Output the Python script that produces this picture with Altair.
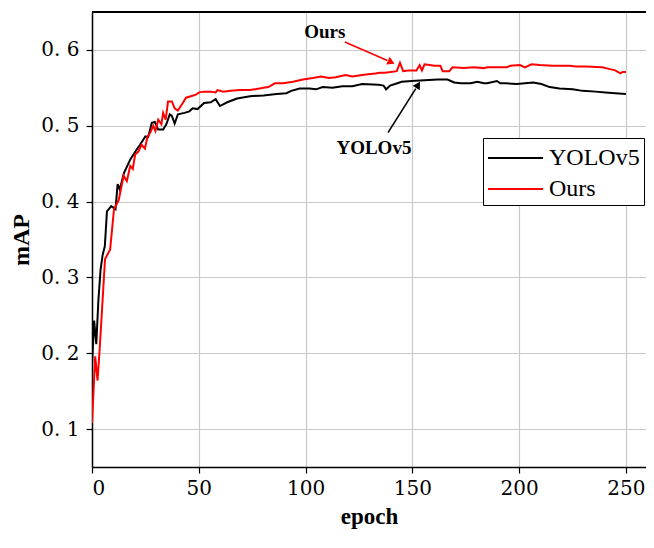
import altair as alt
import pandas as pd

# ---- data ----
yolo_epoch = [0, 1, 2, 3, 4, 5, 6, 7, 9, 11, 12, 13, 15, 18, 21, 22.5, 25, 26.3, 28, 29.4, 31,
              33.3, 34.8, 36.4, 37.4, 38.7, 40.2, 43.3, 45.6, 47.1, 49.4, 52.5, 55.6, 57.9, 59.9,
              63.3, 67.9, 74, 80.3, 86.4, 91, 93.3, 97.2, 101.8, 104.9, 108, 112.6, 117.2, 121.9,
              126.5, 134.2, 136.5, 137.7, 139.6, 141.9, 145, 149.6, 155.7, 161.9, 166.5, 169.6,
              172.7, 177.3, 180.4, 183.5, 185, 189.6, 191.2, 193.5, 198.8, 206.6, 210.4, 214.3,
              218.9, 225.1, 229.7, 235.8, 240.4, 245, 250]
yolo_map = [0.184, 0.243, 0.212, 0.27, 0.31, 0.33, 0.341, 0.387, 0.394, 0.39, 0.423, 0.416, 0.438,
            0.456, 0.469, 0.475, 0.486, 0.485, 0.504, 0.505, 0.495, 0.495, 0.502, 0.515, 0.513,
            0.503, 0.515, 0.517, 0.519, 0.523, 0.522, 0.53, 0.531, 0.535, 0.526, 0.531, 0.536,
            0.539, 0.54, 0.542, 0.543, 0.546, 0.549, 0.549, 0.548, 0.551, 0.55, 0.552, 0.552,
            0.555, 0.554, 0.553, 0.548, 0.553, 0.555, 0.558, 0.559, 0.56, 0.561, 0.561, 0.557,
            0.556, 0.556, 0.558, 0.556, 0.556, 0.559, 0.556, 0.556, 0.555, 0.557, 0.555, 0.551,
            0.549, 0.548, 0.546, 0.545, 0.544, 0.543, 0.542]

ours_epoch = [0, 1.5, 2.6, 3.6, 6.1, 8.5, 10.3, 12.5, 14.8, 16.3, 17.9, 19.1, 20.2, 21.7, 23.2,
              24.8, 26, 27.1, 28.7, 29.7, 31, 32.5, 33.3, 34.5, 35.6, 37.4, 38.7, 40.2, 42.5, 44,
              46.3, 48.7, 50.2, 52.5, 55.6, 57.9, 58.7, 61.5, 64.8, 69.5, 74, 80.3, 82.6, 85.6,
              89.5, 94.1, 98.8, 103.4, 107.2, 111, 114.1, 117.2, 118.8, 120.3, 121.9, 126.5,
              132.6, 134.9, 137.2, 142.7, 144.2, 145.7, 148, 151.9, 153.4, 154.5, 155.7, 158,
              160.4, 163.1, 164.2, 167.3, 168.8, 174.2, 178.8, 183.5, 185, 194.2, 195.8, 200.4,
              202.7, 205.8, 209.6, 215.8, 223.5, 226.6, 231.2, 238.9, 242, 245, 247.4, 248.5, 250]
ours_map = [0.108, 0.196, 0.164, 0.206, 0.324, 0.337, 0.39, 0.402, 0.434, 0.427, 0.447, 0.443,
            0.462, 0.466, 0.475, 0.47, 0.486, 0.49, 0.5, 0.493, 0.508, 0.502, 0.517, 0.508, 0.532,
            0.532, 0.523, 0.52, 0.53, 0.537, 0.539, 0.541, 0.544, 0.545, 0.545, 0.544, 0.547,
            0.545, 0.546, 0.547, 0.547, 0.55, 0.551, 0.556, 0.556, 0.558, 0.561, 0.563, 0.565,
            0.563, 0.564, 0.566, 0.567, 0.566, 0.565, 0.567, 0.569, 0.57, 0.57, 0.572, 0.583,
            0.572, 0.573, 0.573, 0.58, 0.573, 0.581, 0.58, 0.579, 0.579, 0.572, 0.572, 0.577,
            0.576, 0.577, 0.576, 0.577, 0.577, 0.579, 0.58, 0.577, 0.581, 0.58, 0.579, 0.579,
            0.578, 0.578, 0.577, 0.575, 0.573, 0.569, 0.571, 0.571]

series_names = ["YOLOv5", "Ours"]
series_colors = ["#000000", "#ff0000"]
x_ticks = [0, 50, 100, 150, 200, 250]
y_ticks = [0.1, 0.2, 0.3, 0.4, 0.5, 0.6]

# annotations (data coordinates)
ann_text = ["Ours", "YOLOv5"]
ann_x = [109, 132]
ann_y = [0.623, 0.471]
arrow_x = [118.4, 138.6]
arrow_y = [0.6105, 0.491]
arrow_x2 = [138.3, 151.6]
arrow_y2 = [0.586, 0.549]
head_x = [139.6, 152.4]
head_y = [0.5845, 0.5525]
head_angle = [115, 32]
ann_color = ["#ff0000", "#000000"]

df = pd.concat([
    pd.DataFrame({"epoch": yolo_epoch, "mAP": yolo_map, "model": "YOLOv5"}),
    pd.DataFrame({"epoch": ours_epoch, "mAP": ours_map, "model": "Ours"}),
])
ann = pd.DataFrame({"text": ann_text, "x": ann_x, "y": ann_y,
                    "ax": arrow_x, "ay": arrow_y, "ax2": arrow_x2, "ay2": arrow_y2,
                    "hx": head_x, "hy": head_y, "angle": head_angle, "color": ann_color})

xs = alt.Scale(domain=[0, 259.4], nice=False, zero=False)
ys = alt.Scale(domain=[0.05, 0.65], nice=False, zero=False)

lines = alt.Chart(df).mark_line(strokeWidth=2, clip=True).encode(
    x=alt.X("epoch:Q", scale=xs, title="epoch",
            axis=alt.Axis(values=x_ticks, format="d", titlePadding=7, titleFontSize=23)),
    y=alt.Y("mAP:Q", scale=ys, title="mAP",
            axis=alt.Axis(values=y_ticks, labelPadding=7, titlePadding=7,
                          labelExpr="replace(format(datum.value, '.1f'), '.', '. ')")),
    color=alt.Color("model:N",
                    scale=alt.Scale(domain=series_names, range=series_colors),
                    legend=alt.Legend(orient="none", legendX=391, legendY=126, title=None,
                                      symbolType="M-1,0L2.67,0", symbolStrokeWidth=2,
                                      symbolSize=900, labelFont="Liberation Serif",
                                      labelFontSize=24, labelColor="#000",
                                      strokeColor="#000", fillColor="#fff", padding=4,
                                      cornerRadius=0, labelOffset=30, rowPadding=3)),
    order=alt.value(0),
)

# top frame line of the plot area (the right side runs off the page, as in the reference)
top_frame = alt.Chart(df).mark_rule(color="#000", strokeWidth=1).encode(y=alt.value(0))

arrows = alt.Chart(ann).mark_rule(strokeWidth=1.6).encode(
    x=alt.X("ax:Q", scale=xs), y=alt.Y("ay:Q", scale=ys),
    x2="ax2:Q", y2="ay2:Q",
    color=alt.Color("color:N", scale=None),
)
heads = alt.Chart(ann).mark_point(shape="triangle", filled=True, size=70, opacity=1).encode(
    x=alt.X("hx:Q", scale=xs), y=alt.Y("hy:Q", scale=ys),
    angle=alt.Angle("angle:Q", scale=None),
    color=alt.Color("color:N", scale=None),
)
texts = alt.Chart(ann).mark_text(font="Liberation Serif", fontWeight="bold", fontSize=19,
                                 color="#000").encode(
    x=alt.X("x:Q", scale=xs), y=alt.Y("y:Q", scale=ys), text="text:N",
)

chart = alt.layer(lines, top_frame, arrows, heads, texts).properties(
    width=554, height=455,
    autosize=alt.AutoSizeParams(type="none"),
    padding={"left": 84, "top": 4, "right": 0, "bottom": 65},
).configure_view(strokeWidth=0).configure_axis(
    labelFont="DejaVu Serif", labelFontSize=20, labelColor="#000",
    titleFont="Liberation Serif", titleFontSize=24, titleFontWeight="bold", titleColor="#000",
    domainColor="#000", domainWidth=1.5, tickColor="#000", tickSize=6, tickWidth=1.2,
    gridColor="#c8c8c8", gridWidth=1.2, labelPadding=5,
)

chart.save("out.html", embed_options={"renderer": "svg", "actions": False})
